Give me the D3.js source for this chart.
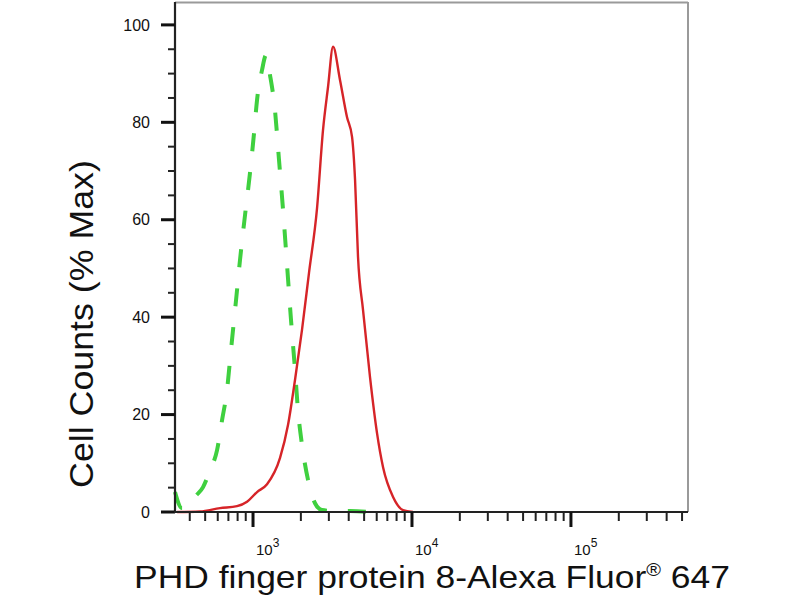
<!DOCTYPE html>
<html><head><meta charset="utf-8">
<script src="https://cdn.jsdelivr.net/npm/d3@7"></script>
<style>
body{margin:0;background:#fff}
svg{display:block}
text{font-family:"Liberation Sans",Arial,Helvetica,sans-serif;fill:#111}
</style>
</head><body>
<svg id="c" width="800" height="600"></svg>
<script>
// ---- data ----
const isotypeX = [323, 357, 390, 431, 485, 537, 594, 639, 686, 727, 782, 828, 891, 957, 1015, 1060, 1139, 1208, 1279, 1374, 1457, 1545, 1637, 1734, 1837, 1918, 2033, 2218, 2455, 2717, 3281, 4077, 5445];
const isotypeY = [4.1, 0.8, 1.0, 3.1, 5.1, 8.6, 12.7, 18.9, 25.0, 33.3, 43.5, 51.7, 61.0, 69.6, 77.8, 84.6, 90.7, 93.8, 89.7, 82.5, 72.3, 62.0, 50.7, 39.4, 29.2, 20.9, 13.8, 6.6, 1.8, 0.4, 0.2, 0.2, 0.0];
const sampleX = [333, 464, 620, 793, 917, 1060, 1225, 1479, 1661, 1837, 2033, 2250, 2528, 2756, 2965, 3187, 3525, 3900, 4197, 4384, 4576, 4920, 5445, 6027, 6577, 7603, 8777, 10140];
const sampleY = [0.0, 0.1, 0.8, 1.2, 2.1, 4.1, 5.7, 11.1, 17.9, 27.1, 37.4, 49.1, 62.4, 78.4, 87.3, 95.5, 88.7, 81.1, 77.0, 68.2, 52.4, 41.5, 27.7, 16.2, 9.2, 3.1, 0.4, 0.0];
const yTickValues = [0, 20, 40, 60, 80, 100];
const yTickLabels = ["0", "20", "40", "60", "80", "100"];
const xTickValues = [1e3, 1e4, 1e5];
const xTickBase = ["10", "10", "10"];
const xTickExponents = ["3", "4", "5"];
const xTitleMain = "PHD finger protein 8-Alexa Fluor";
const xTitleMark = "®";
const xTitleEnd = " 647";
const yTitle = "Cell Counts (% Max)";
const xDomain = [323, 545000];
const yDomain = [0, 104.7];

// ---- layout ----
const L = 175, R = 688, T = 2, B = 512;
const svg = d3.select("#c");
const x = d3.scaleLog().domain(xDomain).range([L, R]);
const y = d3.scaleLinear().domain(yDomain).range([B, T]);

// frame (top/right grey)
svg.append("line").attr("x1", L).attr("x2", R).attr("y1", T + 0.5).attr("y2", T + 0.5)
  .attr("stroke", "#9a9a9a").attr("stroke-width", 2);
svg.append("line").attr("x1", R).attr("x2", R).attr("y1", T).attr("y2", B)
  .attr("stroke", "#9a9a9a").attr("stroke-width", 2);

// curves
const line = d3.line().x(d => x(d[0])).y(d => y(d[1])).curve(d3.curveMonotoneX);
const iso = isotypeX.map((v, i) => [v, isotypeY[i]]);
const smp = sampleX.map((v, i) => [v, sampleY[i]]);
svg.append("path").attr("d", line(iso)).attr("fill", "none")
  .attr("stroke", "#3fd03f").attr("stroke-width", 4)
  .attr("stroke-dasharray", "18,21").attr("stroke-linecap", "butt");
svg.append("path").attr("d", line(smp)).attr("fill", "none")
  .attr("stroke", "#d62428").attr("stroke-width", 2.4).attr("stroke-linejoin", "round");

// left axis
const gy = svg.append("g");
gy.append("line").attr("x1", L).attr("x2", L).attr("y1", T).attr("y2", B + 1)
  .attr("stroke", "#222").attr("stroke-width", 2.2);
const yMinor = d3.range(0, 101, 5).filter(v => v % 20 !== 0);
gy.selectAll(".ym").data(yMinor).join("line")
  .attr("x1", L - 7).attr("x2", L).attr("y1", d => y(d)).attr("y2", d => y(d))
  .attr("stroke", "#222").attr("stroke-width", 2);
gy.selectAll(".yM").data(yTickValues).join("line")
  .attr("x1", L - 14).attr("x2", L).attr("y1", d => y(d)).attr("y2", d => y(d))
  .attr("stroke", "#111").attr("stroke-width", 3);
gy.selectAll(".yl").data(yTickValues).join("text")
  .attr("x", 150).attr("y", d => y(d)).attr("dy", "0.36em")
  .attr("text-anchor", "end").attr("font-size", 16)
  .text((d, i) => yTickLabels[i]);

// bottom axis
const gx = svg.append("g");
gx.append("line").attr("x1", L - 1).attr("x2", R).attr("y1", B).attr("y2", B)
  .attr("stroke", "#222").attr("stroke-width", 2.2);
const xMinor = [];
for (let e = 2; e <= 5; e++) for (let m = 2; m <= 9; m++) {
  const v = m * Math.pow(10, e);
  if (v >= xDomain[0] && v <= xDomain[1]) xMinor.push(v);
}
gx.selectAll(".xm").data(xMinor).join("line")
  .attr("x1", d => x(d)).attr("x2", d => x(d)).attr("y1", B).attr("y2", B + 9)
  .attr("stroke", "#222").attr("stroke-width", 2);
gx.selectAll(".xM").data(xTickValues).join("line")
  .attr("x1", d => x(d)).attr("x2", d => x(d)).attr("y1", B).attr("y2", B + 15)
  .attr("stroke", "#111").attr("stroke-width", 3);
const xl = gx.selectAll(".xl").data(xTickValues).join("text")
  .attr("x", d => x(d) + 3).attr("y", 555).attr("font-size", 15);
xl.append("tspan").text((d, i) => xTickBase[i]);
xl.append("tspan").attr("font-size", 12).attr("dy", -8).text((d, i) => xTickExponents[i]);

// axis titles
const xt = svg.append("text").attr("x", 0).attr("y", 0).attr("font-size", 32);
xt.append("tspan").text(xTitleMain);
xt.append("tspan").attr("font-size", 18).attr("dy", -12).text(xTitleMark);
xt.append("tspan").attr("dy", 12).text(xTitleEnd);
const xw = xt.node().getBBox().width;
xt.attr("transform", `translate(134,588) scale(${596 / xw},1)`);

const yt = svg.append("text").attr("x", 0).attr("y", 0).attr("font-size", 34).text(yTitle);
const yw = yt.node().getComputedTextLength();
yt.attr("text-anchor", "middle")
  .attr("transform", `translate(93,324) rotate(-90) scale(${328 / yw},1)`);
</script>
</body></html>
